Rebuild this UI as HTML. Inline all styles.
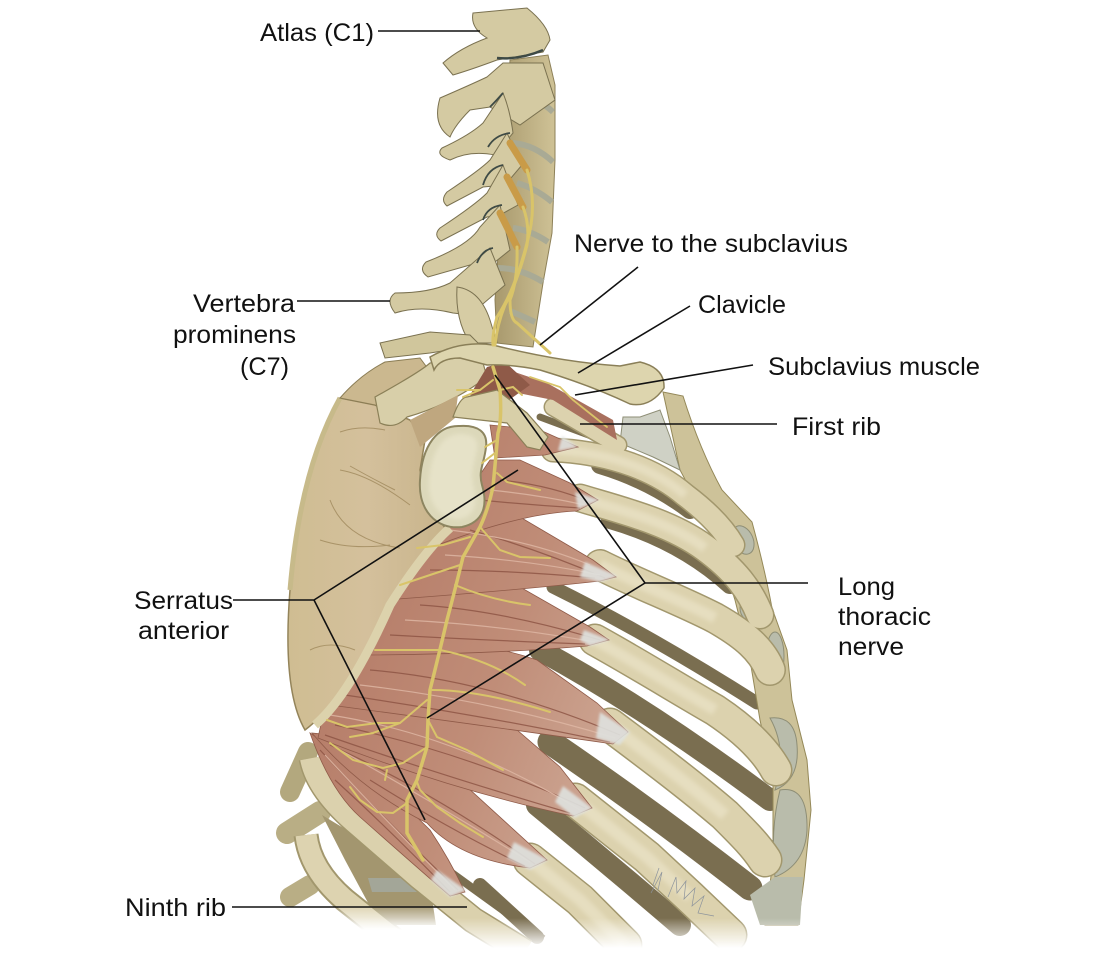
<!DOCTYPE html>
<html lang="en">
<head>
<meta charset="utf-8">
<title>Long thoracic nerve and serratus anterior</title>
<style>
html,body{margin:0;padding:0;background:#fff;width:1113px;height:962px;overflow:hidden}
svg{display:block}
text{font-family:"Liberation Sans","DejaVu Sans",sans-serif;font-size:25px;fill:#111}
</style>
</head>
<body>
<svg width="1113" height="962" viewBox="0 0 1113 962" xmlns="http://www.w3.org/2000/svg">
<defs>
<filter id="b1"><feGaussianBlur stdDeviation="1.4"/></filter>
<filter id="b2"><feGaussianBlur stdDeviation="2"/></filter>
<linearGradient id="fade" x1="0" y1="0" x2="0" y2="1">
<stop offset="0" stop-color="#fff" stop-opacity="0"/><stop offset="1" stop-color="#fff"/>
</linearGradient>
<linearGradient id="musc" gradientUnits="userSpaceOnUse" x1="320" y1="600" x2="620" y2="720">
<stop offset="0" stop-color="#b47a66"/><stop offset=".6" stop-color="#c08d78"/><stop offset="1" stop-color="#cca491"/>
</linearGradient>
<linearGradient id="scap" x1="0" y1="0" x2="1" y2="0">
<stop offset="0" stop-color="#cfbd92"/><stop offset=".5" stop-color="#d4c09c"/><stop offset="1" stop-color="#c8b48b"/>
</linearGradient>
<linearGradient id="body" x1="0" y1="0" x2="1" y2="0">
<stop offset="0" stop-color="#a8996d"/><stop offset="1" stop-color="#cfc296"/>
</linearGradient>
</defs>

<!-- dark interior ribs -->
<g fill="none" stroke="#7a6e50" stroke-linecap="round">
<path d="M540,417 L610,443" stroke-width="7"/>
<path d="M600,465 Q650,480 690,510" stroke-width="18"/>
<path d="M610,520 Q680,540 730,585" stroke-width="18"/>
<path d="M553,587 Q650,635 757,703" stroke-width="13"/>
<path d="M540,650 Q650,710 770,800" stroke-width="22"/>
<path d="M550,742 Q650,810 750,888" stroke-width="25"/>
<path d="M537,805 Q610,865 680,925" stroke-width="22"/>
<path d="M480,885 L537,937" stroke-width="14"/>
</g>

<!-- sternum column -->
<path d="M663,392 L683,396 Q700,450 722,490 L752,522 Q765,570 772,608 L787,650 L792,700 L807,760 L811,810 L804,880 L798,925 L765,925 L773,860 L773,780 L760,720 L750,660 L735,600 L712,530 L680,470 Z" fill="#cdc299" stroke="#948858" stroke-width="1"/>

<!-- cartilage -->
<g fill="#b9bcab" stroke="#8e8e76" stroke-width="1">
<path d="M623,417 L640,417 L660,410 L670,437 L680,470 L653,457 L620,443 Z" fill="#cfd1c5"/>
<ellipse cx="743" cy="540" rx="10" ry="15" transform="rotate(-25 743 540)"/>
<ellipse cx="755" cy="608" rx="15" ry="15"/>
<ellipse cx="775" cy="656" rx="9" ry="24"/>
<path d="M770,718 Q795,715 797,745 Q800,780 775,790 Q788,750 770,718 Z"/>
<path d="M780,790 Q808,785 807,830 Q805,865 775,877 Q770,830 780,790 Z"/>
<path d="M750,895 L775,877 L803,877 L800,925 L760,925 Z" stroke="none"/>
</g>

<!-- ribs -->
<g fill="none" stroke="#a2976d" stroke-linecap="round">
<path d="M553,407 L618,445" stroke-width="19"/>
<path d="M553,450 C600,452 650,465 685,495 C705,510 722,526 733,545" stroke-width="25"/>
<path d="M580,498 C620,510 670,522 705,548 C735,570 750,590 760,615" stroke-width="29"/>
<path d="M600,565 C640,585 680,600 715,618 C745,635 762,650 770,670" stroke-width="32"/>
<path d="M595,640 C640,665 680,690 715,710 C745,730 765,750 776,770" stroke-width="33"/>
<path d="M610,725 C650,755 690,785 725,815 C745,835 755,845 765,860" stroke-width="35"/>
<path d="M575,800 L647,857 L690,897 L730,935" stroke-width="35"/>
<path d="M530,860 L580,900 L625,945" stroke-width="35"/>
</g>
<g fill="none" stroke="#dcd2ae" stroke-linecap="round">
<path d="M553,407 L618,445" stroke-width="16"/>
<path d="M553,450 C600,452 650,465 685,495 C705,510 722,526 733,545" stroke-width="22"/>
<path d="M580,498 C620,510 670,522 705,548 C735,570 750,590 760,615" stroke-width="26"/>
<path d="M600,565 C640,585 680,600 715,618 C745,635 762,650 770,670" stroke-width="29"/>
<path d="M595,640 C640,665 680,690 715,710 C745,730 765,750 776,770" stroke-width="30"/>
<path d="M610,725 C650,755 690,785 725,815 C745,835 755,845 765,860" stroke-width="32"/>
<path d="M575,800 L647,857 L690,897 L730,935" stroke-width="32"/>
<path d="M530,860 L580,900 L625,945" stroke-width="32"/>
</g>
<g fill="none" stroke="#e6dec0" stroke-linecap="butt" filter="url(#b2)">
<path d="M553,450 C600,452 650,465 685,495" stroke-width="9"/>
<path d="M580,498 C620,510 670,522 705,548" stroke-width="10"/>
<path d="M600,565 C640,585 680,600 715,618" stroke-width="11"/>
<path d="M595,640 C640,665 680,690 715,710" stroke-width="11"/>
<path d="M610,725 C650,755 690,785 725,815" stroke-width="12"/>
<path d="M575,800 L647,857 L690,897" stroke-width="12"/>
<path d="M530,860 L580,900 L625,945" stroke-width="12"/>
</g>

<!-- lower left: transverse processes, vertebra, rib B -->
<g fill="none" stroke-linecap="round">
<path d="M308,752 L290,792" stroke="#b3a87e" stroke-width="20"/>
<path d="M320,812 L287,833" stroke="#b9ae85" stroke-width="22"/>
<path d="M310,885 L290,897" stroke="#b9ae85" stroke-width="20"/>
</g>
<path d="M322,815 L360,838 L385,850 L430,885 L436,925 L380,925 L345,860 Z" fill="#a3966f"/>
<path d="M368,878 L430,878 L432,892 L372,892 Z" fill="#a3a698"/>
<path d="M306,835 Q310,870 345,900 L395,940" fill="none" stroke="#a2976d" stroke-width="25"/>
<path d="M306,835 Q310,870 345,900 L395,940" fill="none" stroke="#ddd3b0" stroke-width="21"/>
<rect x="265" y="905" width="200" height="25" fill="url(#fade)"/>
<rect x="265" y="930" width="200" height="32" fill="#fff"/>

<!-- rib A -->
<path d="M322,770 Q345,800 385,835 L445,880 L535,945" fill="none" stroke="#7a6e50" stroke-width="8" transform="translate(8,-6)"/>
<path d="M312,758 Q318,790 360,825 L420,877 L473,920 L525,952" fill="none" stroke="#a2976d" stroke-width="27"/>
<path d="M312,758 Q318,790 360,825 L420,877 L473,920 L525,952" fill="none" stroke="#dbd1ad" stroke-width="24"/>

<!-- serratus anterior slips -->
<g fill="url(#musc)" stroke="#8f5a48" stroke-width=".8">
<path d="M490,425 L540,430 L578,447 L545,455 L495,458Z"/>
<path d="M310,733 Q370,770 430,830 Q450,860 465,892 L450,896 Q420,870 360,817 Q330,790 310,733Z"/>
<path d="M312,733 Q400,740 467,787 L547,860 L530,868 Q460,860 427,823 Q360,790 312,733Z"/>
<path d="M325,705 Q430,690 517,730 L560,767 L592,808 L573,816 Q450,790 318,738Z"/>
<path d="M350,650 Q450,630 537,660 L597,703 L628,732 L613,744 Q480,725 330,705Z"/>
<path d="M385,595 Q460,575 520,587 L590,627 L609,640 L587,646 Q480,655 350,655Z"/>
<path d="M430,545 Q470,505 520,517 L593,560 L616,577 L600,581 Q520,590 385,600Z"/>
<path d="M490,460 L520,460 L570,483 L598,500 L577,511 Q520,513 430,548Z"/>
</g>
<!-- subclavius -->
<path d="M487,367 L500,367 L547,383 L613,420 L617,440 L553,400 L513,392 L490,410 Z" fill="#a9705e"/>
<!-- fibres -->
<g fill="none" stroke-width="1.2" opacity=".8">
<g stroke="#8c5343">
<path d="M500,480 Q550,485 590,502"/><path d="M480,500 Q530,505 580,508"/>
<path d="M470,530 Q540,550 605,578"/><path d="M430,570 Q510,570 595,578"/>
<path d="M420,605 Q500,610 600,640"/><path d="M390,635 Q480,640 585,644"/>
<path d="M370,670 Q490,680 620,735"/><path d="M345,695 Q480,715 610,742"/>
<path d="M335,725 Q460,750 585,808"/><path d="M325,735 Q440,775 570,813"/>
<path d="M330,745 Q430,790 535,864"/><path d="M370,780 Q450,830 525,866"/>
<path d="M320,750 Q380,815 458,890"/><path d="M335,780 Q390,830 450,892"/>
</g>
<g stroke="#e0b9a6">
<path d="M490,490 Q540,495 585,505"/><path d="M445,555 Q530,560 600,575"/>
<path d="M405,620 Q500,625 595,642"/><path d="M360,685 Q490,700 615,738"/>
<path d="M330,715 Q460,735 580,810"/><path d="M340,750 Q430,800 530,862"/>
<path d="M325,755 Q390,825 455,890"/><path d="M450,530 Q530,540 590,565"/>
</g>
</g>
<!-- tendon tips -->
<g fill="#dfe2df" stroke="none" filter="url(#b1)" opacity=".9">
<path d="M562,436 L578,447 L558,451 Z"/>
<path d="M575,492 L600,500 L578,509 Z"/>
<path d="M585,562 L618,576 L600,582 L580,577 Z"/>
<path d="M584,630 L610,640 L590,646 L580,640 Z"/>
<path d="M600,712 L630,732 L620,745 L596,738 Z"/>
<path d="M563,786 L592,808 L575,818 L555,802 Z"/>
<path d="M514,842 L548,860 L530,870 L507,858 Z"/>
<path d="M437,870 L466,890 L450,897 L431,880 Z"/>
</g>

<!-- scapula -->
<path d="M340,398 Q300,470 290,590 Q282,690 305,730 Q345,700 390,605 Q425,550 445,528 Q425,500 420,470 L425,440 L410,420 L375,405 Z" fill="url(#scap)" stroke="#94845a" stroke-width="1.5"/>
<path d="M315,725 Q350,695 390,605 Q425,550 450,528" fill="none" stroke="#dcd2ac" stroke-width="9"/>
<path d="M340,398 Q300,470 290,590" fill="none" stroke="#c7ba8a" stroke-width="5"/>
<g fill="none" stroke="#9c8558" stroke-width="1" opacity=".75">
<path d="M340,470 Q370,475 410,505"/><path d="M350,466 Q375,480 395,490"/>
<path d="M330,500 Q345,540 400,548"/><path d="M320,540 Q350,550 390,545"/>
<path d="M310,650 Q330,640 355,650"/><path d="M340,432 Q360,425 385,430"/>
</g>

<!-- vertebral bodies -->
<path d="M510,60 L548,55 L555,85 L555,160 L552,233 L543,283 L533,347 L497,343 L495,300 L505,150 Z" fill="url(#body)" stroke="#8d8058" stroke-width="1"/>
<g fill="none" stroke="#a9aa95" stroke-width="6">
<path d="M513,97 Q535,95 553,112"/><path d="M513,143 Q535,145 553,162"/>
<path d="M517,183 Q535,188 552,202"/><path d="M513,228 Q530,230 548,242"/>
<path d="M498,268 Q520,268 543,282"/><path d="M510,311 Q520,315 535,322"/>
</g>

<!-- vertebrae -->
<g fill="#d4caa2" stroke="#7a7150" stroke-width="1">
<path d="M473,13 L527,8 Q548,25 550,40 L543,52 L497,60 Q470,70 453,75 L443,63 Q460,48 487,38 Q470,28 473,13 Z"/>
<path d="M503,63 L543,63 L555,100 L520,125 L490,107 L470,110 Q455,125 450,137 Q432,125 440,98 Q470,85 487,77 Z"/>
<path d="M503,93 Q510,110 513,133 L495,155 Q470,150 450,160 Q435,155 442,148 Q470,135 483,123 Z"/>
<path d="M507,133 L522,165 L505,185 L483,187 L447,206 Q440,200 447,192 Q480,170 490,160 Z"/>
<path d="M503,165 L518,205 L500,215 L487,217 L441,241 Q433,235 440,228 Q475,205 487,193 Z"/>
<path d="M500,205 L510,250 L495,262 L477,263 L428,277 Q418,270 426,262 Q470,245 480,227 Z"/>
<path d="M490,248 L505,285 L470,315 L453,313 Q420,305 395,313 Q385,300 395,293 Q430,293 450,283 Z"/>
</g>
<g fill="none" stroke="#3e4a45" stroke-width="1.8">
<path d="M490,107 Q497,100 503,93"/><path d="M488,147 Q495,135 510,133"/>
<path d="M483,185 Q488,168 503,165"/><path d="M483,220 Q487,207 502,205"/>
<path d="M477,263 Q482,250 493,248"/><path d="M497,58 Q520,60 543,50" stroke-width="2.5"/>
</g>
<path d="M457,287 Q480,290 490,320 L497,343 L470,343 Q455,320 457,287 Z" fill="#d6cca4" stroke="#7a7150"/>
<path d="M380,343 L430,332 L470,335 L480,345 L430,353 L385,358 Z" fill="#d0c69c" stroke="#7a7150"/>

<!-- scapular spine / acromion / coracoid -->
<path d="M340,398 Q360,375 385,362 L420,358 L440,385 L400,420 L375,405 Z" fill="#cbb88f" stroke="#8b7d55" stroke-width="1"/>
<path d="M375,397 Q420,372 430,363 L460,357 L483,363 L487,377 Q450,405 407,417 Q395,430 380,423 Z" fill="#d8cfa9" stroke="#8b8058" stroke-width="1.2"/>
<path d="M410,420 L458,395 L455,418 L420,447 Z" fill="#bfa77f"/>
<path d="M487,367 L505,362 L530,385 L495,410 L470,395 Z" fill="#8f5a48"/>
<path d="M453,417 Q460,397 467,397 L497,390 L527,413 L548,437 L540,450 L527,447 L507,423 L480,420 Z" fill="#d8cfa8" stroke="#8b8058" stroke-width="1.2"/>
<path d="M420,480 C422,445 438,425 460,426 C478,425 488,432 486,447 C484,465 478,470 482,485 C488,505 484,522 462,527 C436,530 418,510 420,480 Z" fill="#dcd8ba" stroke="#8d8560" stroke-width="2"/>
<path d="M429,480 C431,452 443,434 460,434 C474,434 479,440 477,450 C474,465 470,472 474,488 C478,505 474,516 460,519 C442,520 427,505 429,480 Z" fill="#e6e2c8" filter="url(#b2)"/>

<!-- clavicle -->
<path d="M430,357 Q460,340 493,345 Q560,362 620,366 L640,362 Q665,368 664,388 Q650,408 630,404 Q590,385 540,370 Q510,364 487,365 L460,358 Q440,358 434,370 Z" fill="#ddd5ae" stroke="#8a7f58" stroke-width="1.5"/>

<!-- nerves -->
<g fill="none" stroke="#d9c469" stroke-linecap="round">
<path d="M510,143 L527,170" stroke="#c99b48" stroke-width="7"/>
<path d="M507,177 L523,207" stroke="#c99b48" stroke-width="7"/>
<path d="M500,213 L517,247" stroke="#c99b48" stroke-width="7"/>
<path d="M527,170 Q538,205 527,243 Q515,290 497,317 Q492,335 493,345" stroke-width="3"/>
<path d="M523,207 Q530,225 527,245 Q518,280 505,305 Q497,325 495,345" stroke-width="3"/>
<path d="M517,247 Q518,280 510,300 Q510,320 517,323 L550,353" stroke-width="3"/>
<path d="M493,367 L500,390 Q502,420 498,433 L493,487 Q488,510 480,527 L463,557 Q455,590 447,620 Q440,650 430,690 L428,720 L427,747 L417,780 L407,800 L407,833 L423,860" stroke-width="3.5"/>
<path d="M493,380 L480,390 L457,390" stroke-width="2"/><path d="M480,390 L463,397" stroke-width="2"/>
<path d="M500,390 L513,387 L522,395" stroke-width="2"/>
<path d="M530,377 L560,387 L573,400 L607,427" stroke-width="1.8"/>
<path d="M497,440 L485,447" stroke-width="2"/><path d="M495,453 L482,463" stroke-width="2"/>
<path d="M497,473 L507,482 L540,490" stroke-width="2"/>
<path d="M480,527 L500,550 L520,557 L550,558" stroke-width="2"/>
<path d="M470,537 L443,545 L417,548" stroke-width="2"/>
<path d="M460,565 L430,575 L400,585" stroke-width="2"/>
<path d="M455,585 Q490,600 530,605" stroke-width="2"/>
<path d="M440,650 Q410,650 375,650" stroke-width="2"/>
<path d="M440,650 Q490,660 525,685" stroke-width="2"/>
<path d="M432,690 Q480,690 550,712" stroke-width="2"/>
<path d="M427,700 L400,723 L373,733 L350,737" stroke-width="2"/>
<path d="M400,723 L377,723 L347,727 L327,720" stroke-width="2"/>
<path d="M428,720 L437,737 L467,750 L503,770" stroke-width="2"/>
<path d="M427,747 L403,763 L383,768 L353,760 L330,743" stroke-width="2"/>
<path d="M387,770 L385,780" stroke-width="2"/>
<path d="M417,782 L420,790 L437,807 L460,823 L483,837" stroke-width="2"/>
<path d="M407,803 L393,813 L377,812 L360,800 L350,787" stroke-width="2"/>
</g>

<!-- bottom fade -->
<rect x="330" y="918" width="480" height="30" fill="url(#fade)"/>
<rect x="330" y="948" width="480" height="14" fill="#fff"/>

<!-- leader lines -->
<g stroke="#111" stroke-width="1.6" fill="none">
<path d="M378,31 H480"/>
<path d="M638,267 L540,345"/>
<path d="M690,306 L578,373"/>
<path d="M753,365 L575,395"/>
<path d="M777,424 H580"/>
<path d="M808,583 H645 L495,375"/>
<path d="M645,583 L427,718"/>
<path d="M233,600 H314 L518,470"/>
<path d="M314,600 L425,820"/>
<path d="M297,301 H390"/>
<path d="M232,907 H467"/>
</g>

<!-- signature -->
<path d="M653,885 L659,868 M651,893 L662,872 L658,890 M668,897 L676,877 L677,893 L686,881 L684,899 L695,888 L692,906 L704,896 L698,913 L714,916" fill="none" stroke="#8d949c" stroke-width=".7"/>

<!-- labels -->
<text x="260" y="41" textLength="114" lengthAdjust="spacingAndGlyphs">Atlas (C1)</text>
<text x="574" y="252" textLength="274" lengthAdjust="spacingAndGlyphs">Nerve to the subclavius</text>
<text x="698" y="313" textLength="88" lengthAdjust="spacingAndGlyphs">Clavicle</text>
<text x="768" y="375" textLength="212" lengthAdjust="spacingAndGlyphs">Subclavius muscle</text>
<text x="792" y="435" textLength="89" lengthAdjust="spacingAndGlyphs">First rib</text>
<text x="838" y="595" textLength="57" lengthAdjust="spacingAndGlyphs">Long</text>
<text x="838" y="625" textLength="93" lengthAdjust="spacingAndGlyphs">thoracic</text>
<text x="838" y="655" textLength="66" lengthAdjust="spacingAndGlyphs">nerve</text>
<text x="134" y="609" textLength="99" lengthAdjust="spacingAndGlyphs">Serratus</text>
<text x="138" y="639" textLength="91" lengthAdjust="spacingAndGlyphs">anterior</text>
<text x="193" y="312" textLength="102" lengthAdjust="spacingAndGlyphs">Vertebra</text>
<text x="173" y="343" textLength="123" lengthAdjust="spacingAndGlyphs">prominens</text>
<text x="240" y="375" textLength="49" lengthAdjust="spacingAndGlyphs">(C7)</text>
<text x="125" y="916" textLength="101" lengthAdjust="spacingAndGlyphs">Ninth rib</text>
</svg>
</body>
</html>
